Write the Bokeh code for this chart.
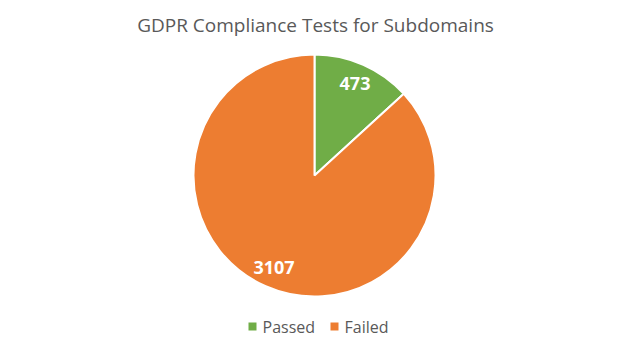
import numpy as np
from bokeh.plotting import figure
from bokeh.models import ColumnDataSource
from bokeh.core.properties import value
from bokeh.embed import file_html
from bokeh.resources import INLINE

categories = ["Passed", "Failed"]
values = [473, 3107]
colors = ["#70AD47", "#ED7D31"]
title = "GDPR Compliance Tests for Subdomains"

W, H = 630, 351
FONT = "Open Sans"

p = figure(width=W, height=H, x_range=(0, W), y_range=(0, H),
           output_backend="svg", toolbar_location=None, min_border=0,
           background_fill_color="white", border_fill_color="white")
p.axis.visible = False
p.grid.visible = False
p.outline_line_color = None

cx, cy, R = 314, H - 175, 121
vals = np.array(values, dtype=float)
frac = vals / vals.sum()
ends = np.pi / 2 - 2 * np.pi * np.cumsum(frac)
starts = np.concatenate([[np.pi / 2], ends[:-1]])
mids = (starts + ends) / 2

src = ColumnDataSource(dict(cat=categories, val=values, color=colors,
                            start=starts, end=ends,
                            lx=cx + 0.83 * R * np.cos(mids),
                            ly=cy + 0.83 * R * np.sin(mids),
                            label=[str(v) for v in values]))

p.wedge(x=cx, y=cy, radius=R, start_angle="end", end_angle="start",
        fill_color="color", line_color="white", line_width=2, source=src)

p.text(x="lx", y="ly", text="label", source=src, text_color="white",
       text_font=value(FONT), text_font_style="bold", text_font_size="18px",
       text_align="center", text_baseline="middle")

# title
p.text(x=[W / 2], y=[H - 24], text=[title], text_color="#595959",
       text_font=value(FONT), text_font_size="19px",
       text_align="center", text_baseline="middle")

# legend
leg_y = H - 326
sq_x = [252, 334]
p.scatter(x=sq_x, y=[leg_y] * 2, marker="square", size=8,
          fill_color=colors, line_color=None)
p.text(x=[x + 10 for x in sq_x], y=[leg_y] * 2, text=categories,
       text_color="#595959", text_font=value(FONT), text_font_size="16px",
       text_align="left", text_baseline="middle")

open("out.html", "w").write(file_html(p, INLINE))
